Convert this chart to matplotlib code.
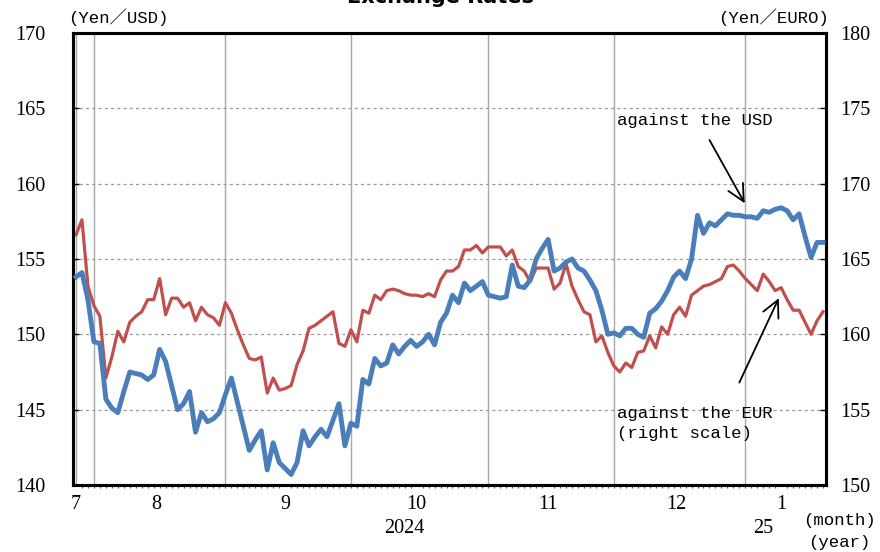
import numpy as np
import pandas as pd

from matplotlib import pyplot as plt
from matplotlib.transforms import blended_transform_factory


# business days shown on the chart (holidays carry the previous value)
dates = pd.bdate_range("2024-07-26", "2025-01-17")

# yen per US dollar (left scale)
usd_yen = [
    153.8, 154.1, 152.3, 149.5, 149.4, 145.7, 145.1, 144.8, 146.2, 147.5,
    147.4, 147.3, 147.0, 147.3, 149.0, 148.2, 146.6, 145.0, 145.4, 146.2,
    143.5, 144.8, 144.2, 144.4, 144.8, 146.0, 147.1, 145.5, 143.9, 142.3,
    143.0, 143.6, 141.0, 142.8, 141.5, 141.1, 140.7, 141.5, 143.6, 142.6,
    143.2, 143.7, 143.2, 144.3, 145.4, 142.6, 144.1, 143.9, 147.0, 146.7,
    148.4, 147.9, 148.1, 149.3, 148.7, 149.2, 149.6, 149.2, 149.5, 150.0,
    149.3, 150.8, 151.4, 152.6, 152.1, 153.4, 152.9, 153.2, 153.5, 152.6,
    152.5, 152.4, 152.5, 154.6, 153.2, 153.1, 153.6, 155.0, 155.7, 156.3,
    154.2, 154.4, 154.8, 155.0, 154.4, 154.2, 153.6, 152.9, 151.6, 150.0,
    150.1, 149.9, 150.4, 150.4, 150.0, 149.8, 151.4, 151.7, 152.2, 152.9,
    153.8, 154.2, 153.7, 155.0, 157.9, 156.7, 157.4, 157.2, 157.6, 158.0,
    157.9, 157.9, 157.8, 157.8, 157.7, 158.2, 158.1, 158.3, 158.4, 158.2,
    157.6, 158.0, 156.5, 155.1, 156.1, 156.1,
]

# yen per euro (right scale)
eur_yen = [
    166.6, 167.6, 163.2, 161.9, 161.2, 157.1, 158.5, 160.2, 159.5, 160.8,
    161.2, 161.5, 162.3, 162.3, 163.7, 161.3, 162.4, 162.4, 161.8, 162.1,
    160.9, 161.8, 161.3, 161.1, 160.6, 162.1, 161.4, 160.3, 159.3, 158.4,
    158.3, 158.5, 156.1, 157.1, 156.3, 156.4, 156.6, 158.0, 158.9, 160.4,
    160.6, 160.9, 161.2, 161.5, 159.4, 159.2, 160.3, 159.5, 161.6, 161.4,
    162.6, 162.3, 162.9, 163.0, 162.9, 162.7, 162.6, 162.6, 162.5, 162.7,
    162.5, 163.6, 164.2, 164.2, 164.5, 165.6, 165.6, 165.9, 165.4, 165.8,
    165.8, 165.8, 165.2, 165.6, 164.5, 164.2, 163.5, 164.4, 164.4, 164.4,
    163.0, 163.4, 164.7, 163.2, 162.3, 161.5, 161.3, 159.5, 159.9, 158.8,
    157.9, 157.5, 158.1, 157.8, 158.8, 158.9, 159.9, 159.1, 160.5, 160.0,
    161.3, 161.8, 161.2, 162.6, 162.9, 163.2, 163.3, 163.5, 163.7, 164.5,
    164.6, 164.2, 163.7, 163.3, 162.9, 164.0, 163.5, 162.9, 163.1, 162.3,
    161.6, 161.6, 160.8, 160.0, 160.9, 161.5,
]

left_ticks = [140, 145, 150, 155, 160, 165, 170]
right_ticks = [150, 155, 160, 165, 170, 175, 180]
year_labels = ["2024", "25"]

SERIF = ["Liberation Serif", "Noto Sans CJK JP"]
MONO = ["Liberation Mono", "Noto Sans CJK JP"]
BLUE = "#4a7ebb"
RED = "#c0504d"


def month_layout(days):
    """
    Works out where months end and where their labels sit.

    Args:
        days: A DatetimeIndex of the plotted business days.

    Returns:
        A tuple of (boundary indices, label positions, labels, first index of each year).
    """

    idx = np.arange(len(days))
    months = days.month.to_numpy()
    years = days.year.to_numpy()
    ends = idx[:-1][months[:-1] != months[1:]]

    keys = pd.Series(idx).groupby([years, months], sort=False)
    centers = [max(g.mean() - 1, 0) for _, g in keys]
    centers[0] = 0
    labels = [str(m) for (_, m), _ in keys]

    year_pos = [idx[years == y].mean() - 1 for y in np.unique(years)]
    year_pos[-1] = idx[years == years[-1]][0] + 2
    return ends, centers, labels, year_pos


def draw_chart(path):
    """
    Draws the two exchange rate lines on twin axes and saves the figure.

    Args:
        path: A string representing the output file name.

    Returns:
        None
    """

    plt.rcParams["font.family"] = SERIF

    fig = plt.figure(figsize=(8.8, 5.52), dpi=100)
    ax = fig.add_axes([73 / 880, 1 - 485 / 552, 753 / 880, 452 / 552])
    ax2 = ax.twinx()

    x = np.arange(len(dates))
    ends, centers, labels, year_pos = month_layout(dates)

    # grid goes on the lower (right scale) axes so it stays behind both lines
    for v in right_ticks[1:-1]:
        ax2.axhline(v, color="#9a9a9a", lw=0.9, ls=(0, (2.5, 2.5)), zorder=0)
    for b in [0, *ends]:
        ax2.axvline(b, color="#a8a8a8", lw=1.0, zorder=0)

    ax2.plot(x, eur_yen, color=RED, lw=2.3, solid_joinstyle="round", zorder=2)
    ax.plot(x, usd_yen, color=BLUE, lw=3.5, solid_joinstyle="round", zorder=3)

    ax.set_zorder(ax2.get_zorder() + 1)
    ax.patch.set_visible(False)

    ax.set_xlim(-0.5, 125.5)
    ax.set_ylim(left_ticks[0], left_ticks[-1])
    ax2.set_ylim(right_ticks[0], right_ticks[-1])

    ax.set_yticks(left_ticks)
    ax2.set_yticks(right_ticks)
    ax.tick_params(axis="y", direction="in", length=4, width=1, pad=20, labelsize=14.5)
    ax2.tick_params(axis="y", direction="in", length=4, width=1, pad=10, labelsize=14.5)

    ax.set_xticks(centers, labels)
    ax.set_xticks(x, minor=True)
    ax.tick_params(axis="x", which="major", length=0, pad=7, labelsize=14.5)
    ax.tick_params(axis="x", which="minor", direction="out", length=2, width=0.8, color="#555555")

    for a in (ax, ax2):
        for sp in a.spines.values():
            sp.set_linewidth(2.2)
            sp.set_color("black")

    below = blended_transform_factory(ax.transData, ax.transAxes)
    for pos, label in zip(year_pos, year_labels):
        ax.text(pos, -0.097, label, transform=below, ha="center", va="center", fontsize=14.5)

    # callouts
    ax.text(90.5, 164.2, "against the USD", family=MONO, fontsize=12.5, va="center", ha="left")
    ax.text(90.6, 144.1, "against the EUR\n(right scale)", family=MONO, fontsize=12.5,
            va="center", ha="left", linespacing=1.4)
    arrow = dict(arrowstyle="->,head_length=0.6,head_width=0.3", lw=1.3, color="black",
                 shrinkA=0, shrinkB=0, mutation_scale=20)
    ax.annotate("", xy=(111.9, 158.7), xytext=(106.0, 162.9), arrowprops=arrow)
    ax.annotate("", xy=(117.6, 152.4), xytext=(111.0, 146.8), arrowprops=arrow)

    # unit labels around the frame
    fig.text(68 / 880, 1 - 17 / 552, "(Yen／USD)", family=MONO, fontsize=12.5, ha="left", va="center")
    fig.text(829 / 880, 1 - 17 / 552, "(Yen／EURO)", family=MONO, fontsize=12.5, ha="right", va="center")
    fig.text(803 / 880, 1 - 521 / 552, "(month)", family=MONO, fontsize=12.5, ha="left", va="center")
    fig.text(808 / 880, 1 - 543 / 552, "(year)", family=MONO, fontsize=12.5, ha="left", va="center")

    # title sits mostly above the canvas, as in the source image
    fig.text(0.5, 1 - 3 / 552, "Exchange Rates", family=["DejaVu Sans"], fontsize=15,
             fontweight="bold", ha="center", va="baseline")

    fig.savefig(path, dpi=100)
    plt.close(fig)


if __name__ == "__main__":
    draw_chart("out.png")
